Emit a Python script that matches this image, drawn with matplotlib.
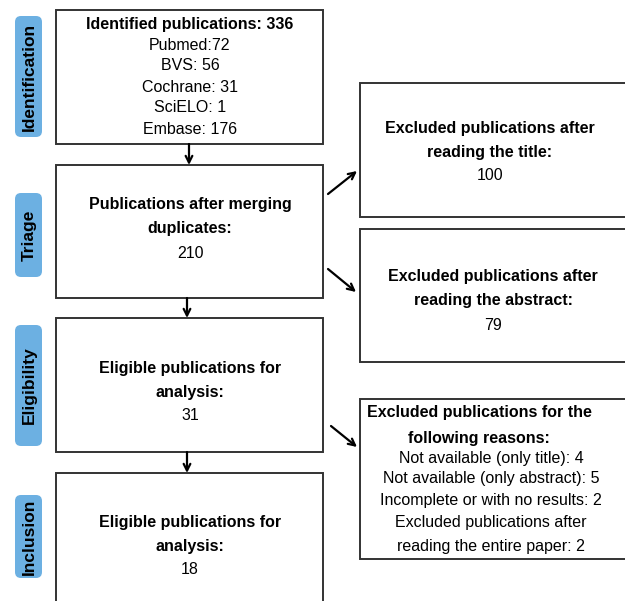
import matplotlib
matplotlib.use("Agg")
import matplotlib.pyplot as plt
from matplotlib.patches import Rectangle, FancyBboxPatch

plt.rcParams['font.family'] = ['Liberation Sans', 'DejaVu Sans']

# stage labels on the left
stages = ['Identification', 'Triage', 'Eligibility', 'Inclusion']
stage_spans = [(16, 137), (193, 277), (325, 446), (495, 578)]

# main column boxes: (top, bottom), bold lines, plain lines
main_spans = [(10, 144), (165, 298), (318, 452), (473, 640)]
main_bold = [['Identified publications: 336'],
             ['Publications after merging', 'duplicates:'],
             ['Eligible publications for', 'analysis:'],
             ['Eligible publications for', 'analysis:']]
main_plain = [['Pubmed:72', 'BVS: 56', 'Cochrane: 31', 'SciELO: 1', 'Embase: 176'],
              ['210'], ['31'], ['18']]
main_first_y = [24, 205, 368, 522]
main_step = [21, 24, 24, 24]

# exclusion boxes on the right
side_spans = [(83, 217), (229, 362), (399, 559)]
side_bold = [['Excluded publications after', 'reading the title:'],
             ['Excluded publications after', 'reading the abstract:'],
             ['Excluded publications for the', 'following reasons:']]
side_plain = [['100'], ['79'],
              ['Not available (only title): 4',
               'Not available (only abstract): 5',
               'Incomplete or with no results: 2',
               'Excluded publications after',
               'reading the entire paper: 2']]
side_first_y = [128, 277, 413]
side_steps = [[24, 23], [24, 24], [25, 20, 21, 22, 21, 24]]
side_cx = [490, 493, 479]

fig = plt.figure(figsize=(6.25, 6.01), dpi=100)
ax = fig.add_axes([0, 0, 1, 1])
ax.set_xlim(0, 625)
ax.set_ylim(601, 0)
ax.axis('off')

edge = '#333333'
fs = 11.5

for name, (t, b) in zip(stages, stage_spans):
    ax.add_patch(FancyBboxPatch((15, t), 27, b - t,
                                boxstyle='round,pad=0,rounding_size=6',
                                fc='#6cb0e2', ec='none'))
    ax.text(29, (t + b) / 2, name, rotation=90, ha='center', va='center',
            fontsize=12.5, fontweight='bold', color='black')

for (t, b), bl, pl, y0, st in zip(main_spans, main_bold, main_plain,
                                   main_first_y, main_step):
    ax.add_patch(Rectangle((56, t), 267, b - t, fc='white', ec=edge, lw=1.4))
    y = y0
    for line in bl:
        ax.text(190, y, line, ha='center', va='center', fontsize=fs,
                fontweight='bold')
        y += st
    for line in pl:
        ax.text(190, y, line, ha='center', va='center', fontsize=fs)
        y += st if len(pl) == 1 else 21

for k, ((t, b), bl, pl, y0, steps, cx) in enumerate(
        zip(side_spans, side_bold, side_plain, side_first_y, side_steps, side_cx)):
    ax.add_patch(Rectangle((360, t), 300, b - t, fc='white', ec=edge, lw=1.4))
    y = y0
    i = 0
    for line in bl + pl:
        weight = 'bold' if line in bl else 'normal'
        x = cx if k < 2 or weight == 'bold' else 491
        ax.text(x, y, line, ha='center', va='center', fontsize=fs,
                fontweight=weight)
        if i < len(steps):
            y += steps[i]
        i += 1

# vertical arrows between main boxes
down_x = [189, 187, 187]
for x, (a, b) in zip(down_x, zip(main_spans[:-1], main_spans[1:])):
    ax.annotate('', xy=(x, b[0]), xytext=(x, a[1]),
                arrowprops=dict(arrowstyle='->', lw=1.6, color='black',
                                shrinkA=0, shrinkB=0, mutation_scale=12))

# diagonal arrows to exclusion boxes
diag = [((328, 194), (357, 171)), ((328, 269), (356, 292)), ((331, 426), (357, 447))]
for start, end in diag:
    ax.annotate('', xy=end, xytext=start,
                arrowprops=dict(arrowstyle='->', lw=1.6, color='black',
                                shrinkA=0, shrinkB=0, mutation_scale=12))

fig.savefig('out.png', dpi=100)
